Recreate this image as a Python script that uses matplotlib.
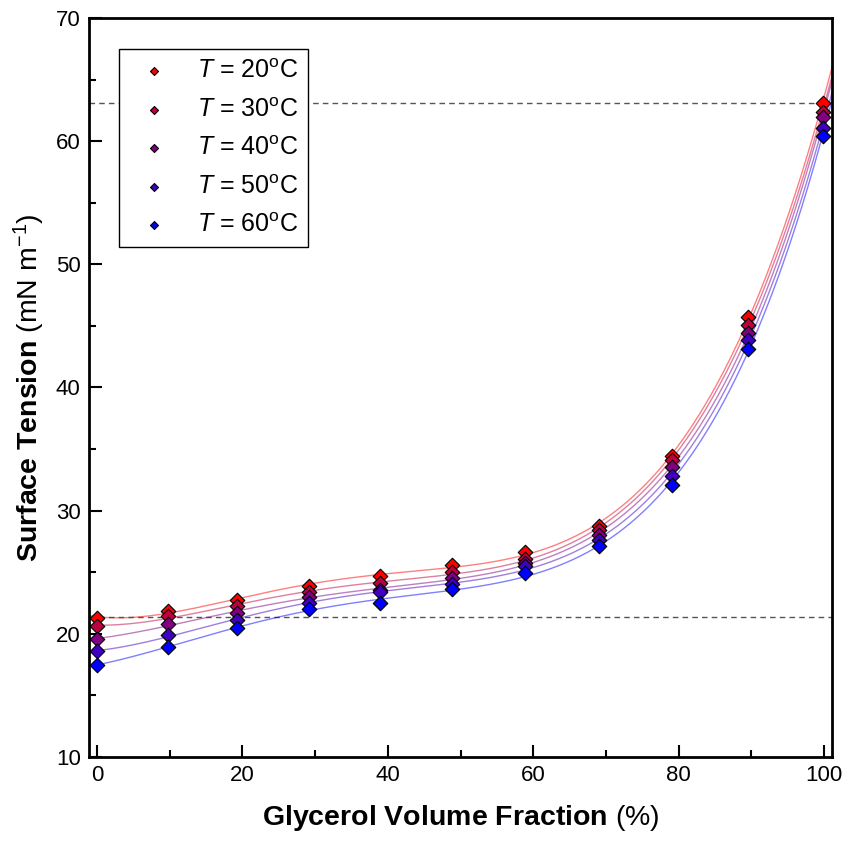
import numpy as np
import matplotlib
matplotlib.use("Agg")
import matplotlib.pyplot as plt
from matplotlib.ticker import MultipleLocator

plt.rcParams['font.family'] = ['Liberation Sans', 'DejaVu Sans']
plt.rcParams['mathtext.fontset'] = 'custom'
plt.rcParams['mathtext.rm'] = 'Liberation Sans'
plt.rcParams['mathtext.it'] = 'Liberation Sans:italic'
plt.rcParams['mathtext.bf'] = 'Liberation Sans:bold'

# glycerol volume fraction (%)
x = [0, 9.7, 19.3, 29.1, 38.9, 48.8, 58.9, 69.0, 79.1, 89.5, 99.8]

temps = [20, 30, 40, 50, 60]
st_20 = [21.32, 21.87, 22.76, 23.90, 24.73, 25.58, 26.63, 28.77, 34.40, 45.70, 63.07]
st_30 = [20.65, 21.41, 22.27, 23.41, 24.11, 25.00, 26.09, 28.44, 34.12, 45.06, 62.40]
st_40 = [19.57, 20.79, 21.73, 22.95, 23.57, 24.52, 25.79, 28.04, 33.58, 44.40, 61.94]
st_50 = [18.59, 19.89, 21.14, 22.49, 23.41, 24.06, 25.47, 27.63, 32.82, 43.84, 61.05]
st_60 = [17.46, 18.97, 20.51, 22.00, 22.52, 23.62, 24.90, 27.09, 32.12, 43.10, 60.40]
series = [st_20, st_30, st_40, st_50, st_60]
colors = ['#ff0000', '#bf0040', '#800080', '#4000bf', '#0000ff']

ref_lines = [63.1, 21.4]

my_dpi = 100
fig = plt.figure(figsize=(846 / my_dpi, 844 / my_dpi), dpi=my_dpi)
ax = fig.add_axes([0.1052, 0.1031, 0.8783, 0.8756])

for yv in ref_lines:
    ax.axhline(yv, color='#555555', lw=1.0, ls=(0, (4, 3)), zorder=1)

xs = np.linspace(-1.1, 101.1, 400)
handles = []
for ys, c, t in zip(series, colors, temps):
    coef = np.polyfit(x, ys, 5)
    ax.plot(xs, np.polyval(coef, xs), color=c, lw=1.0, alpha=0.5, zorder=2)
    h = ax.scatter(x, ys, marker='D', s=55, facecolor=c, edgecolor='black',
                   linewidth=0.8, zorder=3,
                   label=r'$\it{T}$ = %d$^\mathrm{o}$C' % t)
    handles.append(h)

ax.set_xlim(-1.1, 101.1)
ax.set_ylim(10, 70)
ax.xaxis.set_major_locator(MultipleLocator(20))
ax.xaxis.set_minor_locator(MultipleLocator(10))
ax.yaxis.set_major_locator(MultipleLocator(10))
ax.yaxis.set_minor_locator(MultipleLocator(5))
ax.tick_params(which='both', direction='in', width=1.5, labelsize=16,
               top=False, right=False)
ax.tick_params(which='major', length=9, pad=6)
ax.tick_params(which='minor', length=5)
for s in ax.spines.values():
    s.set_linewidth(2)

ax.set_xlabel(r'$\mathbf{Glycerol\ Volume\ Fraction}$ (%)', fontsize=20.5, labelpad=12)
ax.set_ylabel(r'$\mathbf{Surface\ Tension}$ (mN m$^{-1}$)', fontsize=20.5, labelpad=6)

leg = ax.legend(handles=handles, loc='upper left', bbox_to_anchor=(0.0404, 0.958),
                fontsize=18, markerscale=0.55, frameon=True, fancybox=False,
                edgecolor='black', framealpha=1, borderpad=0.4,
                labelspacing=0.58, handletextpad=0.7, borderaxespad=0)
leg.get_frame().set_linewidth(1.0)

fig.savefig("out.png", dpi=my_dpi)
plt.close(fig)
